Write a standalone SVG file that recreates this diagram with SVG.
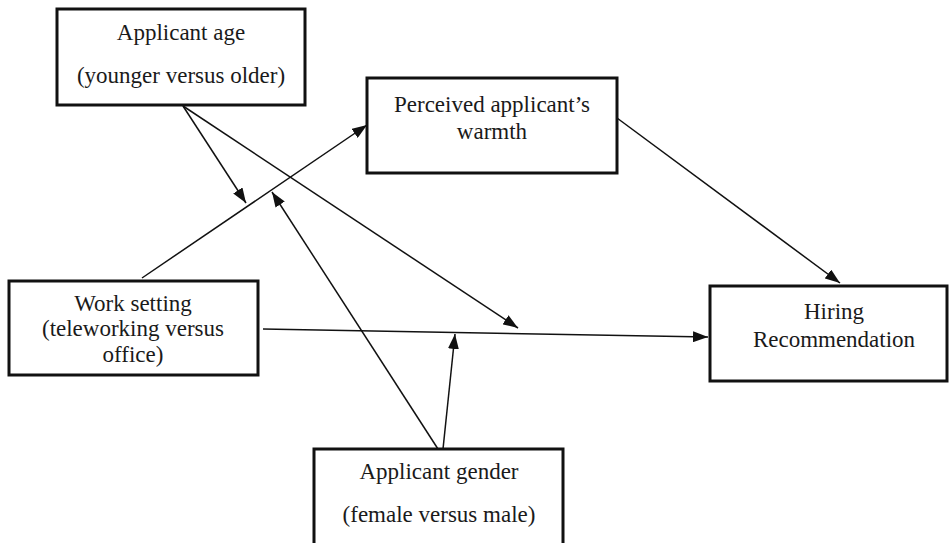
<svg xmlns="http://www.w3.org/2000/svg" width="950" height="543" viewBox="0 0 950 543">
<defs>
<style>
.box{fill:#fff;stroke:#111;stroke-width:3}
.lbl{font-family:"Liberation Serif","Times New Roman",serif;font-size:23px;fill:#1a1a1a;text-anchor:middle}
.con{stroke:#111;stroke-width:1.5;fill:none;marker-end:url(#ah)}
</style>
<marker id="ah" markerUnits="userSpaceOnUse" markerWidth="15" markerHeight="11" refX="15" refY="5.5" orient="auto">
<path d="M0,0 L15,5.5 L0,11 z" fill="#111"/>
</marker>
</defs>
<rect width="950" height="543" fill="#fff"/>
<g id="connectors">
<line class="con" x1="142" y1="278" x2="367" y2="125"/>
<line class="con" x1="617" y1="118" x2="840" y2="283"/>
<line class="con" x1="263" y1="329" x2="708" y2="337"/>
<line class="con" x1="183" y1="106" x2="246" y2="203"/>
<line class="con" x1="183" y1="106" x2="518" y2="328"/>
<line class="con" x1="438" y1="449" x2="272" y2="192"/>
<line class="con" x1="443" y1="449" x2="455" y2="334"/>
</g>
<g id="age">
<rect class="box" x="57" y="9" width="248" height="96"/>
<text class="lbl" x="181" y="40">Applicant age</text>
<text class="lbl" x="181" y="83">(younger versus older)</text>
</g>
<g id="warmth">
<rect class="box" x="367" y="78" width="250" height="95"/>
<text class="lbl" x="492" y="112">Perceived applicant’s</text>
<text class="lbl" x="492" y="139">warmth</text>
</g>
<g id="work">
<rect class="box" x="9" y="281" width="249" height="94"/>
<text class="lbl" x="133" y="311">Work setting</text>
<text class="lbl" x="133" y="336">(teleworking versus</text>
<text class="lbl" x="133" y="362">office)</text>
</g>
<g id="hiring">
<rect class="box" x="710" y="286" width="237" height="95"/>
<text class="lbl" x="834" y="319">Hiring</text>
<text class="lbl" x="834" y="347">Recommendation</text>
</g>
<g id="gender">
<rect class="box" x="314" y="449" width="249" height="110"/>
<text class="lbl" x="439" y="479">Applicant gender</text>
<text class="lbl" x="439" y="522">(female versus male)</text>
</g>
</svg>
